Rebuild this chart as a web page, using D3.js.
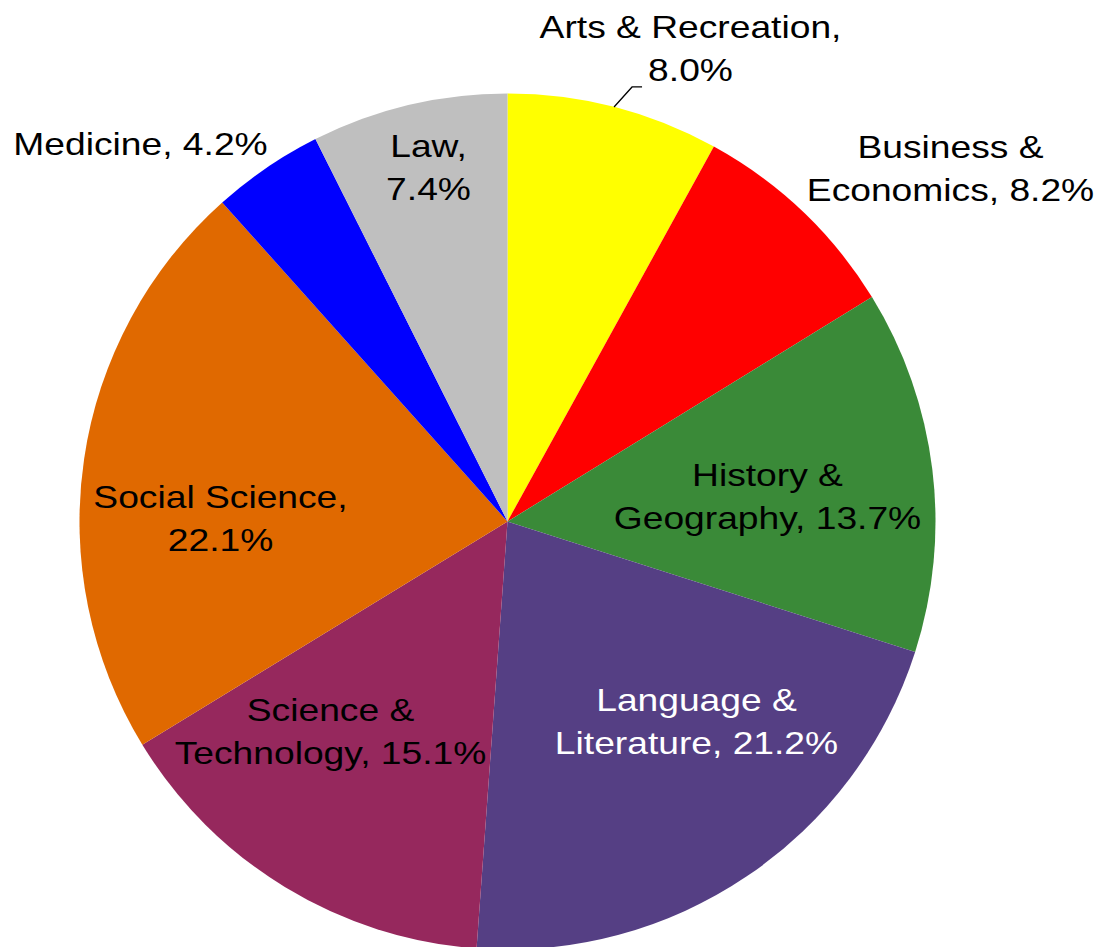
<!DOCTYPE html>
<html>
<head>
<meta charset="utf-8">
<script src="https://cdn.jsdelivr.net/npm/d3@7"></script>
<style>
  body { margin: 0; background: #fff; }
  .label { font-family: "Liberation Sans", Arial, sans-serif; font-size: 31px; }
</style>
</head>
<body>
<svg id="chart" width="1100" height="947"></svg>
<script>
// data
const categories = ["Arts & Recreation", "Business & Economics", "History & Geography",
                    "Language & Literature", "Science & Technology", "Social Science",
                    "Medicine", "Law"]
const shares = [8.0, 8.2, 13.7, 21.2, 15.1, 22.1, 4.2, 7.4]
const labelLines = [
    ["Arts & Recreation,", "8.0%"],
    ["Business &", "Economics, 8.2%"],
    ["History &", "Geography, 13.7%"],
    ["Language &", "Literature, 21.2%"],
    ["Science &", "Technology, 15.1%"],
    ["Social Science,", "22.1%"],
    ["Medicine, 4.2%"],
    ["Law,", "7.4%"]
]

const colors = ["#FFFF00", "#FF0000", "#3A8A38", "#553F84", "#96285D", "#E06900", "#0000FF", "#BFBFBF"]
const textColors = ["#000", "#000", "#000", "#fff", "#000", "#000", "#000", "#000"]
// label centre relative to pie centre (px)
const labelOffsets = [[183, -473], [443, -353], [260, -25], [189, 200],
                      [-177, 210], [-287, -3], [-367, -377], [-79, -354]]

const cx = 507.5, cy = 521.5, radius = 428
const lineHeight = 43
const stretchX = 1.2   // glyphs in the original are drawn wider than normal

let svg = d3.select("#chart")
let g = svg.append("g").attr("transform", `translate(${cx},${cy})`)

let pie = d3.pie().sort(null).value(function (d) { return d })
let arcs = pie(shares)
let arc = d3.arc().innerRadius(0).outerRadius(radius)

g.selectAll(".slice")
    .data(arcs)
    .enter()
    .append("path")
    .attr("class", "slice")
    .attr("d", arc)
    .style("fill", function (d, i) { return colors[i] })

// leader line for the Arts label
let a0 = arcs[0]
let mid = (a0.startAngle + a0.endAngle) / 2
let p0 = [radius * Math.sin(mid), -radius * Math.cos(mid)]
g.append("path")
    .attr("d", d3.line()([p0, [p0[0] + 18, p0[1] - 20], [p0[0] + 28, p0[1] - 20]]))
    .style("fill", "none")
    .style("stroke", "#000")
    .style("stroke-width", 1.3)

// labels
labelLines.forEach(function (lines, i) {
    let t = g.append("text")
        .attr("class", "label")
        .attr("text-anchor", "middle")
        .attr("transform", `translate(${labelOffsets[i][0]},${labelOffsets[i][1]}) scale(${stretchX},1)`)
        .style("fill", textColors[i])
    let first = -(lines.length - 1) / 2 * lineHeight
    lines.forEach(function (s, j) {
        t.append("tspan")
            .attr("x", 0)
            .attr("y", first + j * lineHeight)
            .attr("dy", "0.35em")
            .text(s)
    })
})
</script>
</body>
</html>
